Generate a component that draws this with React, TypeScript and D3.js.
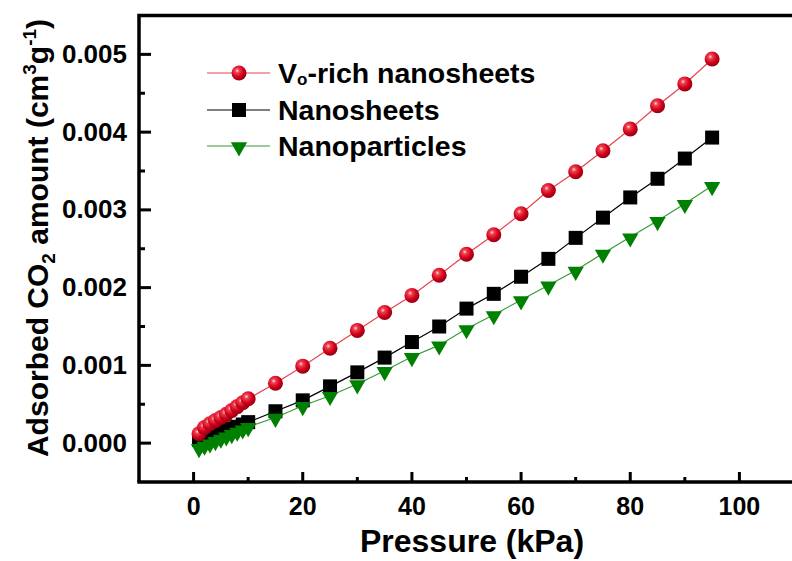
import React from 'react';
import * as d3 from 'd3';

// pressure points (kPa)
const pressure = [1, 2, 3, 4, 5, 6, 7, 8, 9, 10, 15, 20, 25, 30, 35, 40, 45, 50, 55, 60, 65, 70, 75, 80, 85, 90, 95];

// adsorbed CO2 amounts (cm3/g)
const voRich = [0.00012, 0.0002, 0.00025, 0.00029, 0.00033, 0.00037, 0.00042, 0.00047, 0.00052, 0.00057,
  0.00077, 0.00099, 0.00122, 0.00145, 0.00168, 0.0019, 0.00216, 0.00243, 0.00268, 0.00295,
  0.00325, 0.00349, 0.00376, 0.00404, 0.00434, 0.00462, 0.00494];
const nanosheets = [0.00004, 0.00007, 0.0001, 0.00012, 0.00014, 0.00017, 0.00019, 0.00021, 0.00024, 0.00027,
  0.00041, 0.00055, 0.00073, 0.00091, 0.0011, 0.0013, 0.0015, 0.00173, 0.00192, 0.00214,
  0.00237, 0.00264, 0.0029, 0.00316, 0.0034, 0.00366, 0.00393];
const nanoparticles = [-0.00006, -0.00003, 0.0, 0.00003, 0.00006, 0.00009, 0.00012, 0.00015, 0.00018, 0.00021,
  0.00033, 0.00048, 0.00061, 0.00076, 0.00093, 0.00111, 0.00126, 0.00147, 0.00165, 0.00184,
  0.00203, 0.00222, 0.00244, 0.00265, 0.00286, 0.00308, 0.00331];

const xTicks = [0, 20, 40, 60, 80, 100];
const xMinor = [10, 30, 50, 70, 90];
const yTicks = [0, 0.001, 0.002, 0.003, 0.004, 0.005];
const yMinor = [0.0005, 0.0015, 0.0025, 0.0035, 0.0045];

const width = 792;
const height = 561;
const margin = { top: 15.5, right: -2, bottom: 79, left: 139 };

const font = '"Liberation Sans", Arial, sans-serif';

const App: React.FC = () => {
  const x = d3.scaleLinear().domain([-10, 110]).range([margin.left, width - margin.right]);
  const y = d3.scaleLinear().domain([-0.0005, 0.0055]).range([height - margin.bottom, margin.top]);

  const line = d3.line<number>()
    .x((d, i) => x(pressure[i]))
    .y(d => y(d));

  const tri = d3.symbol().type(d3.symbolTriangle).size(115)();

  const x0 = x(-10);
  const y0 = y(-0.0005);

  return (
    <svg width={width} height={height} style={{ position: 'absolute', left: 0, top: 0 }}>
      <defs>
        <radialGradient id="ball" cx="0.38" cy="0.35" r="0.7">
          <stop offset="0" stopColor="#ffe0e0" />
          <stop offset="0.2" stopColor="#f04050" />
          <stop offset="0.6" stopColor="#d0001a" />
          <stop offset="1" stopColor="#8a0010" />
        </radialGradient>
      </defs>
      <rect width={width} height={height} fill="#fff" />

      {/* lines */}
      <path d={line(voRich) || ''} fill="none" stroke="#e54550" strokeWidth={1.2} />
      <path d={line(nanosheets) || ''} fill="none" stroke="#000" strokeWidth={1.2} />
      <path d={line(nanoparticles) || ''} fill="none" stroke="#3a9a3a" strokeWidth={1.2} />

      {/* markers */}
      {nanosheets.map((v, i) => (
        <rect key={'s' + i} x={x(pressure[i]) - 7} y={y(v) - 7} width={14} height={14} fill="#000" />
      ))}
      {nanoparticles.map((v, i) => (
        <path key={'t' + i} d={tri || ''} transform={`translate(${x(pressure[i])},${y(v) + 1}) rotate(180)`} fill="#008000" />
      ))}
      {voRich.map((v, i) => (
        <circle key={'c' + i} cx={x(pressure[i])} cy={y(v)} r={7.5} fill="url(#ball)" />
      ))}

      {/* axes frame */}
      <path d={`M${x0},${y0}V${margin.top}H${width + 5}`} fill="none" stroke="#000" strokeWidth={3.5} />
      <path d={`M${x0 - 1.7},${y0}H${width + 5}`} fill="none" stroke="#000" strokeWidth={3.5} />

      {xTicks.map(t => (
        <g key={'xt' + t}>
          <line x1={x(t)} x2={x(t)} y1={y0} y2={y0 - 10} stroke="#000" strokeWidth={3} />
          <text x={x(t)} y={515} textAnchor="middle" fontFamily={font} fontWeight="bold" fontSize={25}>{t}</text>
        </g>
      ))}
      {xMinor.map(t => (
        <line key={'xm' + t} x1={x(t)} x2={x(t)} y1={y0} y2={y0 - 5} stroke="#000" strokeWidth={3} />
      ))}
      {yTicks.map(t => (
        <g key={'yt' + t}>
          <line x1={x0} x2={x0 + 12} y1={y(t)} y2={y(t)} stroke="#000" strokeWidth={3} />
          <text x={127} y={y(t) + 8.5} textAnchor="end" fontFamily={font} fontWeight="bold" fontSize={26}>{d3.format('.3f')(t)}</text>
        </g>
      ))}
      {yMinor.map(t => (
        <line key={'ym' + t} x1={x0} x2={x0 + 6} y1={y(t)} y2={y(t)} stroke="#000" strokeWidth={3} />
      ))}

      {/* axis titles */}
      <text x={472} y={552} textAnchor="middle" fontFamily={font} fontWeight="bold" fontSize={32}>Pressure (kPa)</text>
      <text transform="translate(48,238) rotate(-90)" textAnchor="middle" fontFamily={font} fontWeight="bold" fontSize={30}>
        Adsorbed CO<tspan fontSize={19} dy={7}>2</tspan><tspan dy={-7}> amount (cm</tspan>
        <tspan fontSize={19} dy={-12}>3</tspan><tspan dy={12}>g</tspan>
        <tspan fontSize={19} dy={-12}>-1</tspan><tspan dy={12}>)</tspan>
      </text>

      {/* legend */}
      {[
        { label: 'nanosheets', yy: 73, color: '#e54550' },
        { label: 'Nanosheets', yy: 110, color: '#000' },
        { label: 'Nanoparticles', yy: 146, color: '#3a9a3a' },
      ].map((d, i) => (
        <g key={'lg' + i}>
          <line x1={207} x2={270} y1={d.yy} y2={d.yy} stroke={d.color} strokeWidth={1.2} />
          {i === 0 && <circle cx={239} cy={d.yy} r={7.5} fill="url(#ball)" />}
          {i === 1 && <rect x={232} y={d.yy - 7} width={14} height={14} fill="#000" />}
          {i === 2 && <path d={tri || ''} transform={`translate(239,${d.yy + 1}) rotate(180)`} fill="#008000" />}
          {i === 0 ? (
            <text x={278} y={d.yy + 10} fontFamily={font} fontWeight="bold" fontSize={28.5}>
              V<tspan fontSize={17} dy={2}>o</tspan><tspan dy={-2}>-rich nanosheets</tspan>
            </text>
          ) : (
            <text x={278} y={d.yy + 10} fontFamily={font} fontWeight="bold" fontSize={28.5}>{d.label}</text>
          )}
        </g>
      ))}
    </svg>
  );
};

export default App;
